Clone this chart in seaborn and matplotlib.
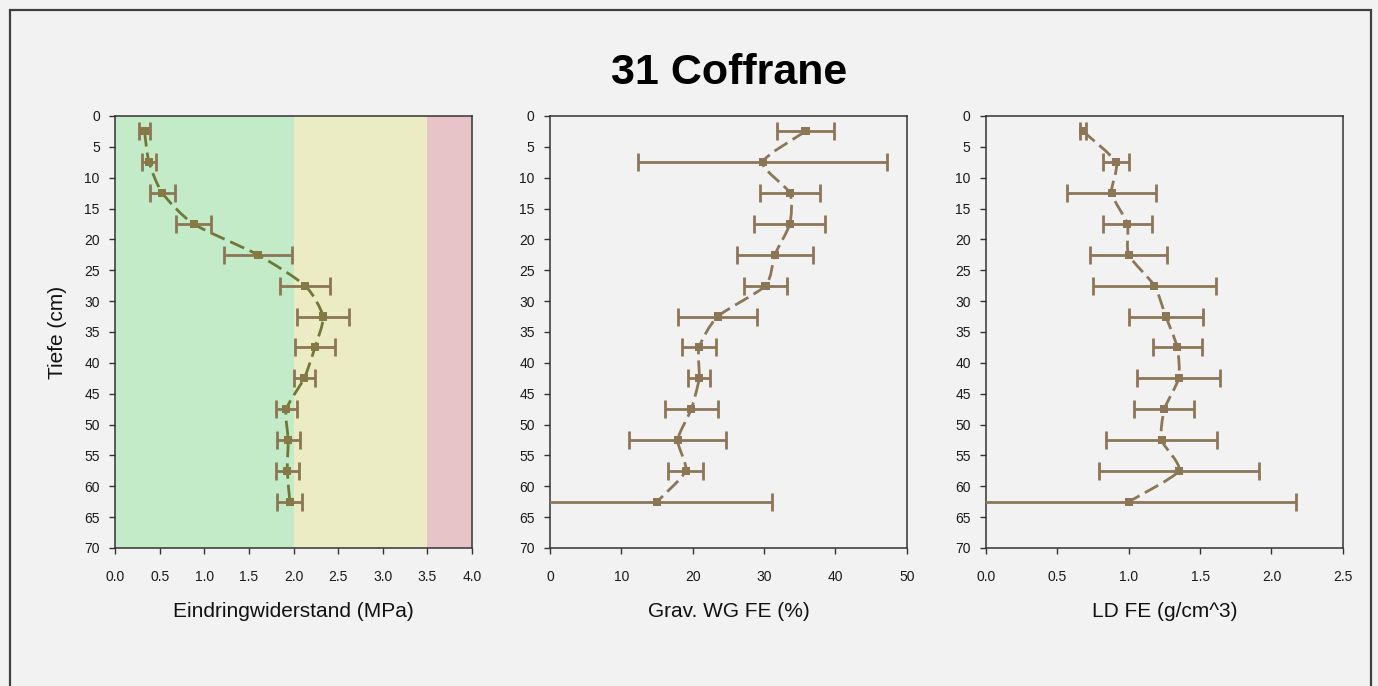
import numpy as np
import pandas as pd
import matplotlib
matplotlib.use("Agg")
import matplotlib.pyplot as plt
from matplotlib.path import Path
from matplotlib.patches import PathPatch, Rectangle
import seaborn as sns

# Profile depths (cm), one value per 5 cm layer
depth = [2.5, 7.5, 12.5, 17.5, 22.5, 27.5, 32.5, 37.5, 42.5, 47.5, 52.5, 57.5, 62.5]

# Penetration resistance (MPa) and its spread
pen_mean = [0.33, 0.38, 0.53, 0.88, 1.60, 2.13, 2.33, 2.24, 2.12, 1.92, 1.94, 1.93, 1.96]
pen_err = [0.065, 0.08, 0.14, 0.20, 0.38, 0.28, 0.29, 0.22, 0.12, 0.12, 0.13, 0.13, 0.14]

# Gravimetric water content (%)
wg_mean = [35.8, 29.8, 33.6, 33.6, 31.5, 30.2, 23.5, 20.9, 20.9, 19.8, 17.9, 19.0, 15.0]
wg_err = [4.0, 17.4, 4.2, 5.0, 5.3, 3.0, 5.5, 2.35, 1.5, 3.75, 6.8, 2.4, 16.1]

# Bulk density (g/cm^3)
ld_mean = [0.68, 0.91, 0.88, 0.99, 1.00, 1.18, 1.26, 1.34, 1.35, 1.25, 1.23, 1.35, 1.00]
ld_err = [0.023, 0.093, 0.31, 0.17, 0.27, 0.43, 0.26, 0.17, 0.29, 0.21, 0.39, 0.56, 1.175]

# Classification bands for penetration resistance (MPa)
band_edges = [0.0, 2.0, 3.5, 4.0]
band_colors = ["#c4ebc8", "#ebebc4", "#e6c4c8"]

title = "31 Coffrane"
xlabels = ["Eindringwiderstand (MPa)", "Grav. WG FE (%)", "LD FE (g/cm^3)"]
ylabel = "Tiefe (cm)"
xlims = [(0, 4), (0, 50), (0, 2.5)]
xticks = [np.arange(0, 4.01, 0.5), np.arange(0, 51, 10), np.arange(0, 2.51, 0.5)]
xtick_fmt = ["{:.1f}", "{:.0f}", "{:.1f}"]

BG = "#f2f2f2"
ERR_C = "#8c7656"

sns.set_theme(style="ticks")
plt.rcParams["font.family"] = ["Liberation Sans", "DejaVu Sans"]
plt.rcParams["axes.linewidth"] = 1.1
plt.rcParams["axes.edgecolor"] = "#333333"


def smooth_path(xs, ys, k=9.0):
    """Cubic Bezier path through the points with gentle tangents."""
    p = np.column_stack([xs, ys]).astype(float)
    n = len(p)
    verts = [p[0]]
    codes = [Path.MOVETO]
    for i in range(n - 1):
        p0 = p[i - 1] if i > 0 else p[i]
        p1, p2 = p[i], p[i + 1]
        p3 = p[i + 2] if i + 2 < n else p[i + 1]
        c1 = p1 + (p2 - p0) / k
        c2 = p2 - (p3 - p1) / k
        verts += [c1, c2, p2]
        codes += [Path.CURVE4] * 3
    return Path(verts, codes)


fig = plt.figure(figsize=(13.78, 6.86), dpi=100, facecolor=BG)
lefts = [0.0835, 0.3991, 0.7155]
width = 0.259
bottom, height = 0.2012, 0.6298

series = [(pen_mean, pen_err), (wg_mean, wg_err), (ld_mean, ld_err)]
line_colors = ["#6e7838", ERR_C, ERR_C]
marker_colors = ["#857a44", ERR_C, ERR_C]

for i, (vals, errs) in enumerate(series):
    ax = fig.add_axes([lefts[i], bottom, width, height])
    ax.set_facecolor(BG)
    if i == 0:
        for lo, hi, c in zip(band_edges[:-1], band_edges[1:], band_colors):
            ax.axvspan(lo, hi, color=c, lw=0, zorder=0)

    df = pd.DataFrame({"value": vals, "depth": depth, "err": errs})

    # smoothed dashed profile line
    patch = PathPatch(smooth_path(df["value"], df["depth"]), fill=False,
                      edgecolor=line_colors[i], lw=2.0, linestyle=(0, (5.5, 2.2)),
                      zorder=2, capstyle="butt")
    ax.add_patch(patch)

    ax.errorbar(df["value"], df["depth"], xerr=df["err"], fmt="none",
                ecolor=ERR_C, elinewidth=2.0, capsize=6.3, capthick=2.0,
                zorder=3)
    sns.scatterplot(data=df, x="value", y="depth", marker="s", s=34,
                    color=marker_colors[i], edgecolor="none", ax=ax, zorder=4)

    ax.set_xlim(*xlims[i])
    ax.set_ylim(70, 0)
    ax.set_yticks(np.arange(0, 71, 5))
    ax.set_xticks(xticks[i])
    ax.set_xticklabels([xtick_fmt[i].format(t) for t in xticks[i]])
    ax.tick_params(axis="both", direction="out", length=4, width=1,
                   labelsize=10, colors="#333333", labelcolor="#1a1a1a")
    ax.tick_params(axis="x", pad=12)
    ax.tick_params(axis="y", pad=7)
    for s in ax.spines.values():
        s.set_visible(True)
        s.set_color("#333333")
    ax.set_xlabel(xlabels[i], fontsize=15, labelpad=13, color="#111111")
    if i == 0:
        ax.set_ylabel(ylabel, fontsize=15, labelpad=12, color="#111111")
    else:
        ax.set_ylabel("")

fig.text(0.529, 0.894, title, ha="center", va="center", fontsize=31,
         fontweight="bold", color="black")

# outer frame
fig.patches.append(Rectangle((0.0072, -0.05), 0.9877, 1.036, transform=fig.transFigure,
                             fill=False, edgecolor="#404040", lw=1.6, zorder=10))

fig.savefig("out.png", dpi=100, facecolor=BG)
